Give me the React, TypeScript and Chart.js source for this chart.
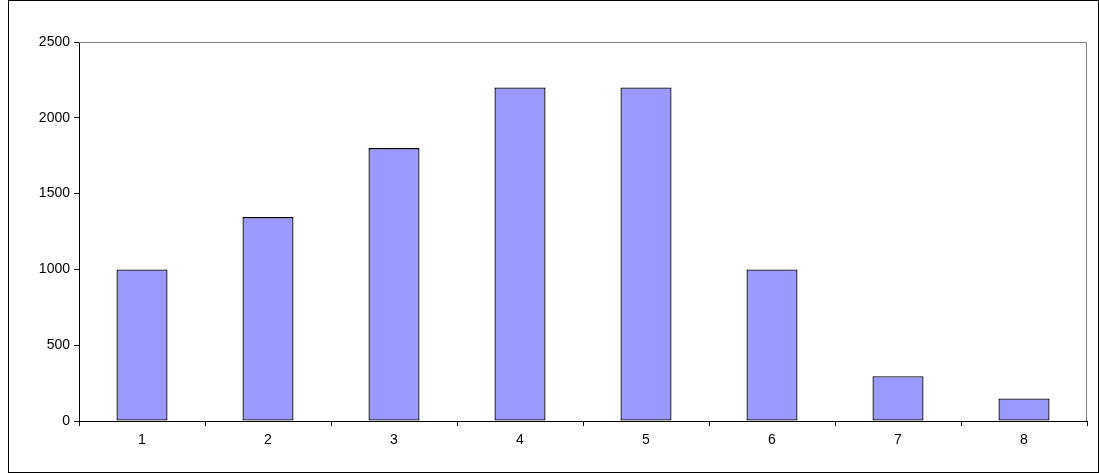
import React, { useEffect, useRef } from 'react';
import Chart from 'chart.js/auto';

const categories = ['1', '2', '3', '4', '5', '6', '7', '8'];
const values = [1000, 1345, 1800, 2200, 2200, 1000, 295, 148];
const yTicks = [0, 500, 1000, 1500, 2000, 2500];

const plotFrame = {
    id: 'plotFrame',
    afterDatasetsDraw(chart: any) {
        const { ctx, chartArea: a } = chart;
        ctx.save();
        ctx.strokeStyle = '#808080';
        ctx.lineWidth = 1;
        ctx.beginPath();
        ctx.moveTo(a.left, a.top + 0.5);
        ctx.lineTo(a.right - 0.5, a.top + 0.5);
        ctx.lineTo(a.right - 0.5, a.bottom);
        ctx.stroke();
        ctx.restore();
    },
};

const App: React.FC = () => {
    const canvasRef = useRef<HTMLCanvasElement>(null);

    useEffect(() => {
        if (!canvasRef.current) return;
        const chart = new Chart(canvasRef.current, {
            type: 'bar',
            data: {
                labels: categories,
                datasets: [
                    {
                        data: values,
                        backgroundColor: '#9999ff',
                        borderColor: '#000000',
                        borderWidth: 1.3,
                        borderSkipped: false,
                        barPercentage: 0.405,
                        categoryPercentage: 1,
                    },
                ],
            },
            options: {
                animation: false,
                responsive: false,
                layout: { padding: { top: 42, right: 10, left: 0, bottom: 0 } },
                plugins: { legend: { display: false }, tooltip: { enabled: false } },
                scales: {
                    x: {
                        offset: true,
                        grid: {
                            offset: true,
                            drawOnChartArea: false,
                            color: '#000',
                            tickLength: 5,
                        },
                        border: { color: '#000' },
                        ticks: { color: '#000', font: { family: 'Liberation Sans, Arial', size: 14 }, padding: 6 },
                        afterFit: (axis: any) => { axis.height = 50; },
                    },
                    y: {
                        min: 0,
                        max: 2500,
                        afterBuildTicks: (axis: any) => { axis.ticks = yTicks.map((v) => ({ value: v })); },
                        grid: { drawOnChartArea: false, color: '#000', tickLength: 5 },
                        border: { color: '#000' },
                        ticks: {
                            color: '#000',
                            font: { family: 'Liberation Sans, Arial', size: 14 },
                            padding: 4,
                            callback: (v: any) => String(v),
                        },
                        afterFit: (axis: any) => { axis.width = 71; },
                    },
                },
            },
            plugins: [plotFrame],
        });
        return () => chart.destroy();
    }, []);

    return (
        <div style={{ position: 'absolute', left: 8, top: 0, width: 1089, height: 471, border: '1px solid #000', background: '#fff' }}>
            <canvas ref={canvasRef} width={1089} height={471} style={{ display: 'block', position: 'absolute', left: -1, top: -1 }} />
        </div>
    );
};

export default App;
